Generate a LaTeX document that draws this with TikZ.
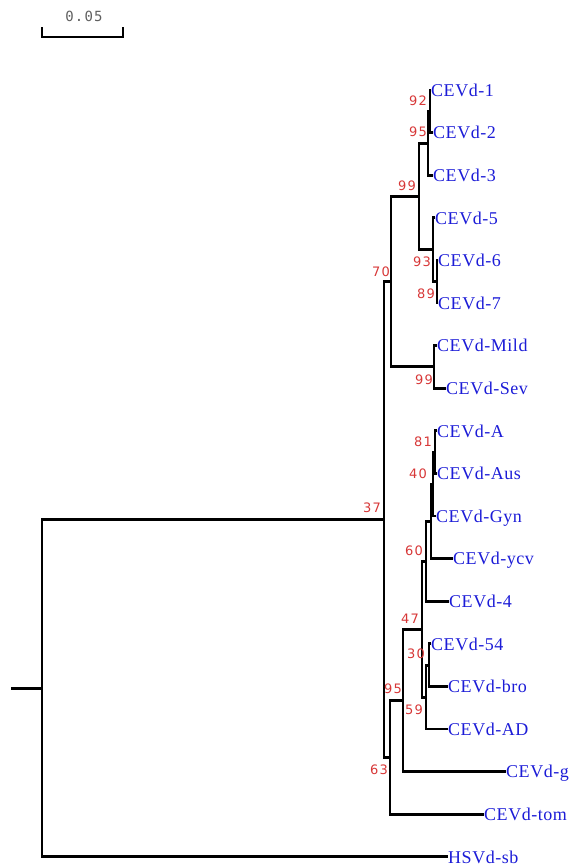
\documentclass[tikz,border=0pt]{standalone}
\usepackage{fontspec}
\newfontfamily\leaffont[LetterSpace=3]{Liberation Serif}
\newfontfamily\bsfont[LetterSpace=8]{DejaVu Sans}
\newfontfamily\sbfont[LetterSpace=8]{DejaVu Sans Mono}
\definecolor{leafblue}{RGB}{28,28,215}
\definecolor{bootred}{RGB}{215,55,55}
\definecolor{sbgray}{RGB}{95,95,95}
\begin{document}
\begin{tikzpicture}[x=1pt,y=-1pt,
  br/.style={line width=2.9pt, black},
  leaf/.style={anchor=west, inner sep=0pt, font=\leaffont\fontsize{18}{18}\selectfont, text=leafblue, text height=12.5pt, text depth=0pt},
  boot/.style={inner sep=0pt, font=\bsfont\fontsize{13}{13}\selectfont, text=bootred}]
\useasboundingbox (0,0) rectangle (571,868);

% scale bar
\coordinate (s1) at (42,27);
\coordinate (s2) at (42,37);
\coordinate (s3) at (123,37);
\coordinate (s4) at (123,27);
\draw[line width=2.4pt] (s1) -- (s2) -- (s3) -- (s4);
\node[inner sep=0pt, font=\sbfont\fontsize{14}{14}\selectfont, text=sbgray] (sl) at (84,16) {0.05};

% internal nodes
\coordinate (r0) at (11,688.15);
\coordinate (root) at (42,688.15);
\coordinate (n37) at (384,519.5);
\coordinate (n70) at (391,281.7);
\coordinate (n99a) at (419,196.5);
\coordinate (n95a) at (428,143.25);
\coordinate (n92) at (430,111.3);
\coordinate (n93) at (433,249.75);
\coordinate (n89) at (437,281.7);
\coordinate (n99b) at (434,366.9);
\coordinate (n63) at (390,757.3);
\coordinate (n95b) at (403,700.4);
\coordinate (n47) at (422,629.15);
\coordinate (n60) at (426,561.25);
\coordinate (nY) at (431,521.3);
\coordinate (nZ) at (433,484.05);
\coordinate (n81) at (435,452.1);
\coordinate (n59) at (426,697.05);
\coordinate (n30) at (429,665.1);

% leaf tips
\coordinate (t1) at (431,90);
\coordinate (t2) at (433,132.6);
\coordinate (t3) at (433,175.2);
\coordinate (t5) at (435,217.8);
\coordinate (t6) at (438,260.4);
\coordinate (t7) at (438,303.0);
\coordinate (tMild) at (437,345.6);
\coordinate (tSev) at (446,388.2);
\coordinate (tA) at (437,430.8);
\coordinate (tAus) at (437,473.4);
\coordinate (tGyn) at (436,516.0);
\coordinate (tycv) at (453,558.6);
\coordinate (t4) at (449,601.2);
\coordinate (t54) at (431,643.8);
\coordinate (tbro) at (448,686.4);
\coordinate (tAD) at (448,729.0);
\coordinate (tg) at (506,771.6);
\coordinate (ttom) at (484,814.2);
\coordinate (tsb) at (448,856.8);

% branches
\draw[br] (r0) -- (root);
\draw[br] (root) |- (n37);
\draw[br] (root) |- (tsb);
\draw[br] (n37) |- (n70);
\draw[br] (n37) |- (n63);
\draw[br] (n70) |- (n99a);
\draw[br] (n70) |- (n99b);
\draw[br] (n99a) |- (n95a);
\draw[br] (n99a) |- (n93);
\draw[br] (n95a) |- (n92);
\draw[br] (n95a) |- (t3);
\draw[br] (n92) |- (t1);
\draw[br] (n92) |- (t2);
\draw[br] (n93) |- (t5);
\draw[br] (n93) |- (n89);
\draw[br] (n89) |- (t6);
\draw[br] (n89) |- (t7);
\draw[br] (n99b) |- (tMild);
\draw[br] (n99b) |- (tSev);
\draw[br] (n63) |- (n95b);
\draw[br] (n63) |- (ttom);
\draw[br] (n95b) |- (n47);
\draw[br] (n95b) |- (tg);
\draw[br] (n47) |- (n60);
\draw[br] (n47) |- (n59);
\draw[br] (n60) |- (nY);
\draw[br] (n60) |- (t4);
\draw[br] (nY) |- (nZ);
\draw[br] (nY) |- (tycv);
\draw[br] (nZ) |- (n81);
\draw[br] (nZ) |- (tGyn);
\draw[br] (n81) |- (tA);
\draw[br] (n81) |- (tAus);
\draw[br] (n59) |- (n30);
\draw[br] (n59) |- (tAD);
\draw[br] (n30) |- (t54);
\draw[br] (n30) |- (tbro);

% leaf labels
\node[leaf] (l1) at (t1) {CEVd-1};
\node[leaf] (l2) at (t2) {CEVd-2};
\node[leaf] (l3) at (t3) {CEVd-3};
\node[leaf] (l5) at (t5) {CEVd-5};
\node[leaf] (l6) at (t6) {CEVd-6};
\node[leaf] (l7) at (t7) {CEVd-7};
\node[leaf] (lMild) at (tMild) {CEVd-Mild};
\node[leaf] (lSev) at (tSev) {CEVd-Sev};
\node[leaf] (lA) at (tA) {CEVd-A};
\node[leaf] (lAus) at (tAus) {CEVd-Aus};
\node[leaf] (lGyn) at (tGyn) {CEVd-Gyn};
\node[leaf] (lycv) at (tycv) {CEVd-ycv};
\node[leaf] (l4) at (t4) {CEVd-4};
\node[leaf] (l54) at (t54) {CEVd-54};
\node[leaf] (lbro) at (tbro) {CEVd-bro};
\node[leaf] (lAD) at (tAD) {CEVd-AD};
\node[leaf] (lg) at (tg) {CEVd-g};
\node[leaf] (ltom) at (ttom) {CEVd-tom};
\node[leaf] (lsb) at (tsb) {HSVd-sb};

% bootstrap values
\node[boot] (b92) at (418,101) {92};
\node[boot] (b95a) at (418,132) {95};
\node[boot] (b99a) at (407,186) {99};
\node[boot] (b70) at (381,272) {70};
\node[boot] (b93) at (422,262) {93};
\node[boot] (b89) at (426,294) {89};
\node[boot] (b99b) at (424,380) {99};
\node[boot] (b81) at (423,442) {81};
\node[boot] (b40) at (418,474) {40};
\node[boot] (b37) at (372,508) {37};
\node[boot] (b60) at (414,551) {60};
\node[boot] (b47) at (410,619) {47};
\node[boot] (b30) at (416,654) {30};
\node[boot] (b95b) at (393,689) {95};
\node[boot] (b59) at (414,710) {59};
\node[boot] (b63) at (379,770) {63};
\end{tikzpicture}
\end{document}
